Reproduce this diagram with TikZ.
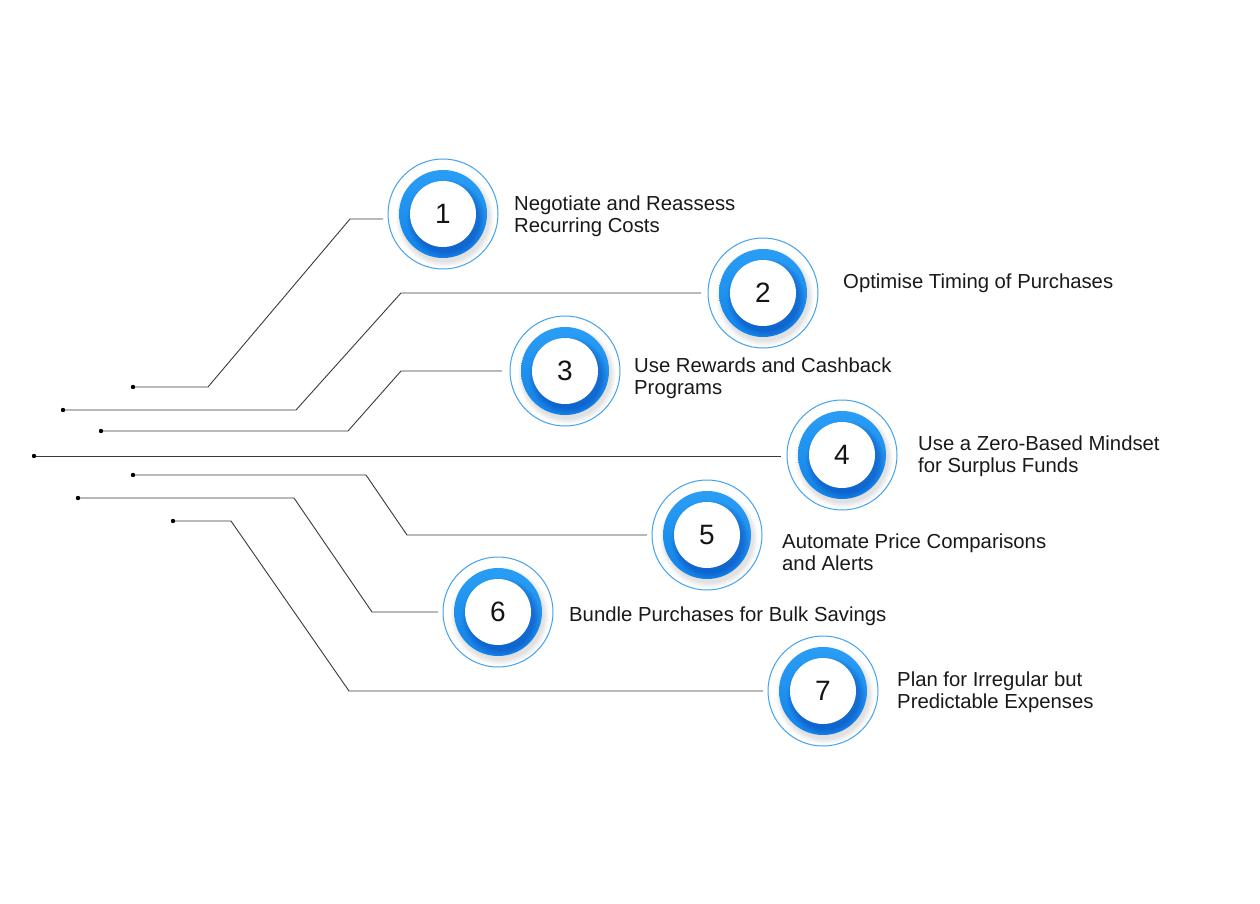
\documentclass[tikz,border=0pt]{standalone}
\usepackage{fontspec}
\setmainfont{Liberation Sans}
\definecolor{ringA}{HTML}{2A9EF5}
\definecolor{ringB}{HTML}{1383E8}
\definecolor{thinring}{HTML}{42A2F0}
\definecolor{linec}{HTML}{3A3A3A}
\tikzset{
  lead/.style={draw=linec, line width=0.9pt},
  lab/.style={anchor=west, align=left, font=\fontsize{20.3}{22}\selectfont, text=black!90, inner sep=0pt},
  badge/.style={circle, minimum size=110pt, inner sep=0pt, font=\fontsize{28}{28}\selectfont, text=black!92},
  thinstroke/.style={draw=thinring, line width=1pt}
}
\newcommand\mkbadge[4]{%
  \begin{scope}[shift={(#2,#3)}]
    \foreach \k in {1,...,6} \fill[black, opacity=0.02] (2,4) circle ({43pt+\k pt});
    \shade[top color=ringA, bottom color=ringB] (0,0) circle (44pt);
    \foreach \k in {1,...,7} \fill[blue!50!black, opacity=0.035] (3,5) circle ({32pt+\k pt});
    \fill[white] (0,0) circle (33pt);
  \end{scope}
  \node[badge] (#1) at (#2,#3) {#4};
  \draw[thinstroke] (#1.center) circle (55pt);
}
\begin{document}
\begin{tikzpicture}[x=1pt,y=-1pt]
\useasboundingbox[fill=white] (0,0) rectangle (1260,904);

\mkbadge{c1}{443}{214}{1}
\mkbadge{c2}{763}{293}{2}
\mkbadge{c3}{565}{371}{3}
\mkbadge{c4}{842}{455}{4}
\mkbadge{c5}{707}{535}{5}
\mkbadge{c6}{498}{612}{6}
\mkbadge{c7}{823}{691}{7}

% leader coordinates
\coordinate (d1) at (133,387); \coordinate (a1) at (208,387); \coordinate (b1) at (350,219); \coordinate (e1) at (383,219);
\coordinate (d2) at (63,410);  \coordinate (a2) at (296,410); \coordinate (b2) at (401,293); \coordinate (e2) at (701,293);
\coordinate (d3) at (101,431); \coordinate (a3) at (348,431); \coordinate (b3) at (401,371); \coordinate (e3) at (502,371);
\coordinate (d4) at (34,456);  \coordinate (e4) at (781,456);
\coordinate (d5) at (133,475); \coordinate (a5) at (366,475); \coordinate (b5) at (407,535); \coordinate (e5) at (647,535);
\coordinate (d6) at (78,498);  \coordinate (a6) at (294,498); \coordinate (b6) at (372,612); \coordinate (e6) at (438,612);
\coordinate (d7) at (173,521); \coordinate (a7) at (231,521); \coordinate (b7) at (349,691); \coordinate (e7) at (763,691);

\draw[lead] (d1) -- (a1) -- (b1) -- (e1);
\draw[lead] (d2) -- (a2) -- (b2) -- (e2);
\draw[lead] (d3) -- (a3) -- (b3) -- (e3);
\draw[lead] (d4) -- (e4);
\draw[lead] (d5) -- (a5) -- (b5) -- (e5);
\draw[lead] (d6) -- (a6) -- (b6) -- (e6);
\draw[lead] (d7) -- (a7) -- (b7) -- (e7);
\foreach \d in {d1,d2,d3,d4,d5,d6,d7} \fill[black] (\d) circle (2.2pt);

\node[lab] (t1) at (514,216) {Negotiate and Reassess\\Recurring Costs};
\node[lab] (t2) at (843,283) {Optimise Timing of Purchases};
\node[lab] (t3) at (634,378) {Use Rewards and Cashback\\Programs};
\node[lab] (t4) at (918,456) {Use a Zero-Based Mindset\\for Surplus Funds};
\node[lab] (t5) at (782,552) {Automate Price Comparisons\\and Alerts};
\node[lab] (t6) at (569,616) {Bundle Purchases for Bulk Savings};
\node[lab] (t7) at (897,692) {Plan for Irregular but\\Predictable Expenses};
\end{tikzpicture}
\end{document}
